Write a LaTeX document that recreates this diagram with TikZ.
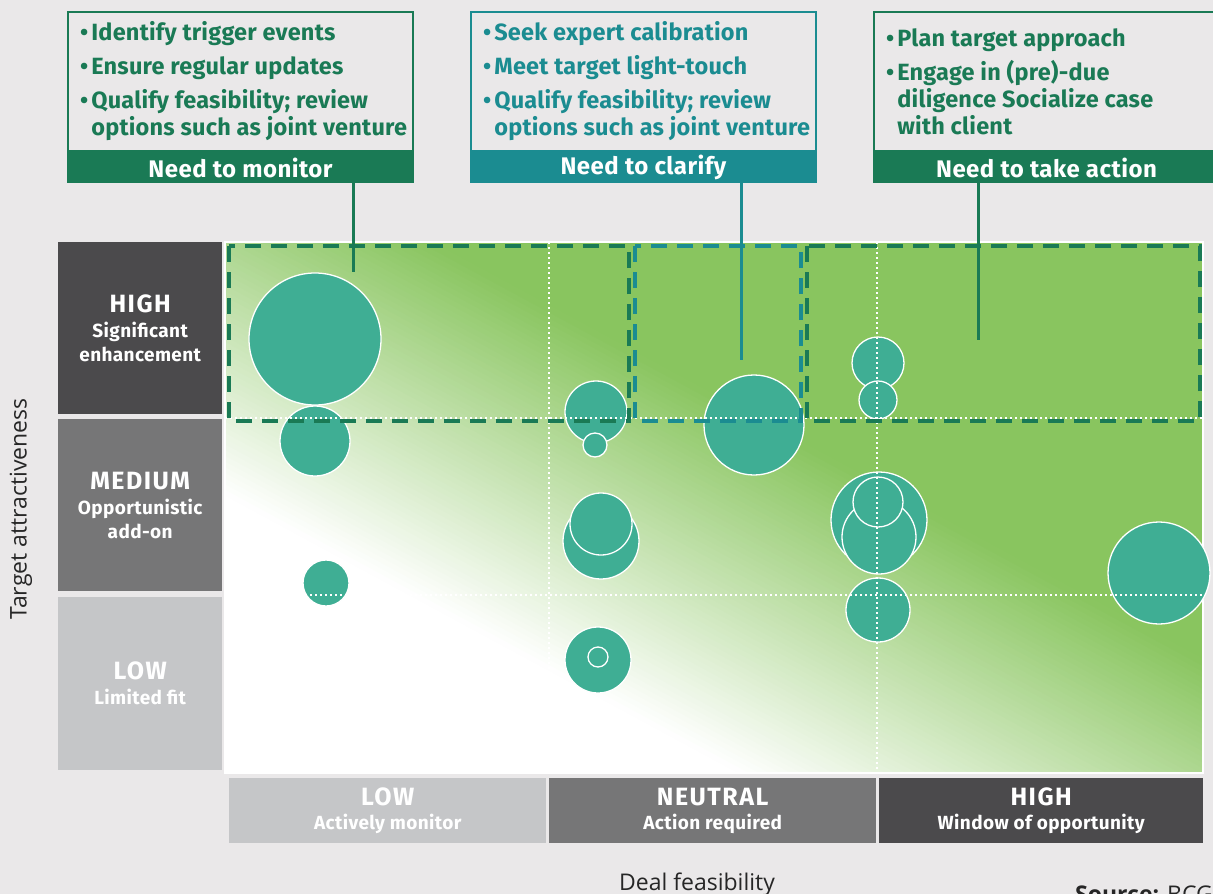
\documentclass[tikz,border=0pt]{standalone}
\usepackage{fontspec}
\setmainfont{Fira Sans}
\newfontfamily\axisfont{Open Sans}
\usepackage{tikz}
\usetikzlibrary{positioning}

\definecolor{bgray}{HTML}{EAE8E9}
\definecolor{bcggreen}{HTML}{1A7A55}
\definecolor{bcgteal}{HTML}{1B8C91}
\definecolor{bubblefill}{HTML}{3FAE94}
\definecolor{fieldgreen}{HTML}{89C55F}
\definecolor{darkpanel}{HTML}{4B4A4C}
\definecolor{midpanel}{HTML}{767677}
\definecolor{lightpanel}{HTML}{C5C6C8}

\newcommand{\bul}{\textbullet\hspace{3pt}}
\newcommand{\bulind}{\hphantom{\textbullet\hspace{3pt}}}
\newcommand{\levelfont}{\fontsize{25}{26}\selectfont\addfontfeatures{LetterSpace=6}}

\tikzset{
  callbox/.style={draw=#1, line width=2pt, fill=bgray, minimum width=345pt,
    minimum height=139pt, inner sep=0pt, anchor=north west},
  callhead/.style={fill=#1, text=white, minimum width=347pt, minimum height=31pt,
    inner sep=0pt, font=\bfseries\fontsize{24}{26}\selectfont\addfontfeatures{LetterSpace=2}},
  calltext/.style={text=#1, align=left, inner sep=0pt, anchor=west,
    font=\bfseries\fontsize{23.5}{27}\selectfont\addfontfeatures{LetterSpace=1}},
  rowpanel/.style={fill=#1, text=white, minimum width=164pt, minimum height=172pt,
    inner sep=0pt, anchor=north west, align=center,
    font=\bfseries\fontsize{19}{24}\selectfont\addfontfeatures{LetterSpace=2}},
  colpanel/.style={fill=#1, text=white, minimum height=65pt, inner sep=0pt,
    anchor=north west, align=center,
    font=\bfseries\fontsize{19}{24}\selectfont\addfontfeatures{LetterSpace=2}},
  bubble/.style={fill=bubblefill, draw=white, line width=1.3pt},
  gridline/.style={white, line width=2pt, dash pattern=on 2pt off 3pt},
  dashbox/.style={draw=#1, line width=4pt, dash pattern=on 16pt off 10pt},
  leader/.style={draw=#1, line width=3pt},
  axislabel/.style={inner sep=0pt, text=black!85, font=\axisfont\fontsize{23}{26}\selectfont}
}

\begin{document}
\begin{tikzpicture}[x=1pt, y=-1pt]
    % Canvas
    \useasboundingbox (0,0) rectangle (1213,894);
    \fill[bgray] (0,0) rectangle (1213,894);
    \clip (0,0) rectangle (1213,894);

    % Field: white in the lower left, green towards the upper right
    \fill[fieldgreen] (225,242) rectangle (1203,773);
    \begin{scope}
        \clip (225,242) rectangle (1203,773);
        \begin{scope}[rotate around={-28.4:(347,560)}]
            \fill[white] (-900,560) rectangle (2300,1600);
            \foreach \i [evaluate=\i as \pct using {(\i+0.5)*100/64}] in {0,...,63}
                \fill[fieldgreen!\pct!white] (-900,561-5*\i) rectangle (2300,554.5-5*\i);
        \end{scope}
    \end{scope}
    \draw[white, line width=2pt] (225,242) rectangle (1203,773);

    % Target bubbles
    \draw[bubble] (315,339) circle (66);
    \draw[bubble] (315,441) circle (35);
    \draw[bubble] (326,583) circle (23);
    \draw[bubble] (596,412) circle (31);
    \draw[bubble] (595,445) circle (12);
    \draw[bubble] (601,541) circle (38);
    \draw[bubble] (601,524) circle (31);
    \draw[bubble] (598,660) circle (33);
    \draw[bubble] (598,657) circle (10);
    \draw[bubble] (754,425) circle (50);
    \draw[bubble] (878,363) circle (26);
    \draw[bubble] (878,400) circle (19);
    \draw[bubble] (879,520) circle (48);
    \draw[bubble] (879,537) circle (37);
    \draw[bubble] (878,502) circle (25);
    \draw[bubble] (878,610) circle (32);
    \draw[bubble] (1159,573) circle (51);

    % Dotted grid
    \draw[gridline] (549,242) -- (549,773);
    \draw[gridline] (877,242) -- (877,773);
    \draw[gridline] (225,418) -- (1203,418);
    \draw[gridline] (225,595) -- (1203,595);

    % Zones
    \draw[dashbox=bcggreen] (229,246) rectangle (629,421);
    \draw[dashbox=bcgteal] (635,246) rectangle (801,421);
    \draw[dashbox=bcggreen] (807,246) rectangle (1200,421);

    % Attractiveness levels
    \node[rowpanel=darkpanel] (rowhigh) at (58,242) {{\levelfont HIGH}\\[1pt]Significant\\enhancement};
    \node[rowpanel=midpanel] (rowmed) at (58,419) {{\levelfont MEDIUM}\\[1pt]Opportunistic\\add-on};
    \node[rowpanel=lightpanel, minimum height=173pt] (rowlow) at (58,597) {{\levelfont LOW}\\[1pt]Limited fit};

    % Feasibility levels
    \node[colpanel=lightpanel, minimum width=317pt] (collow) at (229,778) {{\levelfont LOW}\\Actively monitor};
    \node[colpanel=midpanel, minimum width=327pt] (colneu) at (549,778) {{\levelfont NEUTRAL}\\Action required};
    \node[colpanel=darkpanel, minimum width=324pt] (colhigh) at (879,778) {{\levelfont HIGH}\\Window of opportunity};

    % Callouts
    \node[callbox=bcggreen] (monbox) at (67,11) {};
    \node[callhead=bcggreen, below=0pt of monbox] (monhead) {Need to monitor};
    \node[calltext=bcggreen] (montext) at ([xshift=13pt]monbox.west)
        {\bul Identify trigger events\\[7pt]\bul Ensure regular updates\\[7pt]\bul Qualify feasibility; review\\\bulind options such as joint venture};

    \node[callbox=bcgteal] (clarbox) at (470,11) {};
    \node[callhead=bcgteal, below=0pt of clarbox] (clarhead) {Need to clarify};
    \node[calltext=bcgteal] (clartext) at ([xshift=13pt]clarbox.west)
        {\bul Seek expert calibration\\[7pt]\bul Meet target light-touch\\[7pt]\bul Qualify feasibility; review\\\bulind options such as joint venture};

    \node[callbox=bcggreen] (actbox) at (873,11) {};
    \node[callhead=bcggreen, below=0pt of actbox] (acthead) {Need to take action};
    \node[calltext=bcggreen] (acttext) at ([xshift=13pt]actbox.west)
        {\bul Plan target approach\\[7pt]\bul Engage in (pre)-due\\\bulind diligence Socialize case\\\bulind with client};

    % Leaders into the zones
    \coordinate (monend) at (353,272);
    \coordinate (clarend) at (741,360);
    \coordinate (actend) at (978,340);
    \draw[leader=bcggreen] (monhead.south -| monend) -- (monend);
    \draw[leader=bcgteal] (clarhead.south -| clarend) -- (clarend);
    \draw[leader=bcggreen] (acthead.south -| actend) -- (actend);

    % Axis titles
    \node[axislabel, rotate=90] (yaxis) at (21,509) {Target attractiveness};
    \node[axislabel, anchor=base] (xaxis) at (697,890) {Deal feasibility};
    \node[axislabel, anchor=base west] (source) at (1075,902) {\textbf{Source:} BCG};
\end{tikzpicture}
\end{document}
